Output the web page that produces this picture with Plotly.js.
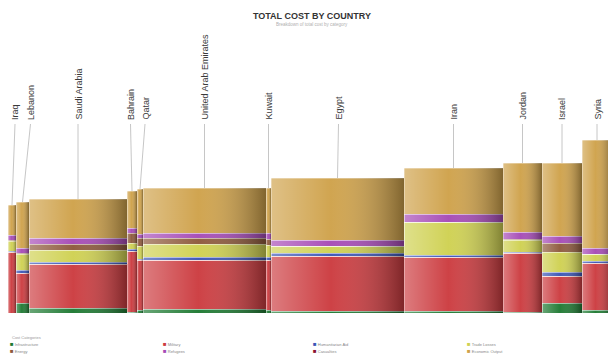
<!DOCTYPE html>
<html>
<head>
<meta charset="utf-8">
<script src="https://cdn.plot.ly/plotly-3.0.1.min.js"></script>
<style>html,body{margin:0;padding:0;background:#fff;}#chart{width:608px;height:357px;}</style>
</head>
<body>
<div id="chart"></div>
<script>
// ---- DATA ----
var countries = ["Iraq","Lebanon","Saudi Arabia","Bahrain","Qatar","United Arab Emirates","Kuwait","Egypt","Iran","Jordan","Israel","Syria"];
// bar widths (relative size of each country)
var countryWidths = [8, 13, 98, 10, 6, 123, 5, 133, 99, 39, 40, 30];
// cost categories in stacking order (bottom -> top)
var categories = ["Infrastructure","Military","Casualties","Humanitarian Aid","Trade Losses","Energy","Refugees","Economic Output"];
var infrastructure = [0, 10, 5, 1, 3, 4, 3, 2, 2, 1, 10, 3];
var military       = [61, 30, 44, 61, 50, 49, 50, 55, 54, 59, 27, 47];
var casualties     = [0, 0, 0, 0, 0, 0, 0, 0, 0, 0, 0, 0];
var humanitarian   = [1, 3, 2, 2, 1, 3, 3, 3, 2, 1, 4, 2];
var tradeLosses    = [10, 16, 12, 6, 13, 13, 12, 7, 33, 12, 20, 7];
var energy         = [1, 1, 6, 10, 8, 6, 6, 0, 0, 1, 9, 0];
var refugees       = [5, 5, 6, 5, 4, 5, 6, 6, 8, 7, 7, 6];
var economicOutput = [30, 46, 39, 37, 45, 45, 45, 62, 46, 69, 73, 108];
var seriesValues = [infrastructure, military, casualties, humanitarian, tradeLosses, energy, refugees, economicOutput];
var seriesColors = ["#1f7a33","#cc3c40","#8a1232","#3b56b6","#cfd152","#8e5a3d","#a64bb6","#cfa24b"];
// legend reading order (4 columns, 2 rows)
var legendOrder = [0, 1, 3, 4, 5, 6, 2, 7];

// ---- LAYOUT HELPERS (label placement, not data) ----
var labelShift = [3, 8, 0, -1.5, 5, 0, 0, 1, 0, 0, 0, 0];
var labelBase = 189; // leader lines end just below the labels

// ---- BUILD ----
var starts = [], centers = [], totals = [];
var acc = 0;
for (var i = 0; i < countries.length; i++) {
  starts.push(acc);
  centers.push(acc + countryWidths[i] / 2);
  acc += countryWidths[i];
  var t = 0;
  for (var s = 0; s < seriesValues.length; s++) t += seriesValues[s][i];
  totals.push(t);
}

var traces = categories.map(function (name, s) {
  return {
    type: "bar", name: name, x: centers, y: seriesValues[s], width: countryWidths,
    marker: { color: seriesColors[s], line: { color: "rgba(255,255,255,0.55)", width: 0.6 } },
    hoverinfo: "name+y", showlegend: false
  };
});

var gradSvg = "<svg xmlns='http://www.w3.org/2000/svg' width='100' height='100' preserveAspectRatio='none'>" +
  "<defs><linearGradient id='g' x1='0' y1='0' x2='1' y2='0'>" +
  "<stop offset='0' stop-color='#ffffff' stop-opacity='0.33'/>" +
  "<stop offset='0.45' stop-color='#ffffff' stop-opacity='0.03'/>" +
  "<stop offset='1' stop-color='#000000' stop-opacity='0.38'/>" +
  "</linearGradient></defs><rect width='100' height='100' fill='url(#g)'/></svg>";
var gradSrc = "data:image/svg+xml;charset=utf-8," + encodeURIComponent(gradSvg);

var images = countries.map(function (c, i) {
  return { source: gradSrc, xref: "x", yref: "y", x: starts[i], y: totals[i],
    sizex: countryWidths[i], sizey: totals[i], xanchor: "left", yanchor: "top",
    sizing: "stretch", layer: "above", opacity: 1 };
});

var shapes = countries.map(function (c, i) {
  return { type: "line", xref: "x", yref: "y", x0: centers[i], x1: centers[i] + labelShift[i],
    y0: totals[i], y1: labelBase, line: { color: "#b8b8b8", width: 0.8 }, layer: "below" };
});

var annotations = countries.map(function (c, i) {
  return { text: c, xref: "x", yref: "y", x: centers[i] + labelShift[i], y: labelBase + 2,
    xanchor: "center", yanchor: "bottom", textangle: -90, showarrow: false,
    font: { family: "Liberation Sans, Arial, sans-serif", size: 9, color: "#3a3a3a" } };
});

annotations.push({ text: "Breakdown of total cost by category", xref: "paper", yref: "paper",
  x: 0.507, y: 0.02, yref: "container", xanchor: "center", yanchor: "middle", showarrow: false,
  font: { family: "Liberation Sans, Arial, sans-serif", size: 4.5, color: "#b0b0b0" } });
annotations[annotations.length - 1].yref = "paper";
annotations[annotations.length - 1].y = 1.018;

// legend built from categories and colours
annotations.push({ text: "Cost Categories", xref: "paper", yref: "paper", x: 0.003, y: -0.085,
  xanchor: "left", yanchor: "middle", showarrow: false,
  font: { family: "Liberation Sans, Arial, sans-serif", size: 4, color: "#999" } });
var colX = [0.0, 0.255, 0.505, 0.762];
var rowY = [-0.11, -0.135];
legendOrder.forEach(function (s, k) {
  annotations.push({
    text: "<span style='color:" + seriesColors[s] + ";font-size:6px'>■</span> " + categories[s],
    xref: "paper", yref: "paper", x: colX[k % 4], y: rowY[Math.floor(k / 4)],
    xanchor: "left", yanchor: "middle", showarrow: false,
    font: { family: "Liberation Sans, Arial, sans-serif", size: 4, color: "#888" } });
});

var layout = {
  width: 608, height: 357,
  margin: { l: 8, r: 0, t: 30, b: 44 },
  paper_bgcolor: "#ffffff", plot_bgcolor: "#ffffff",
  barmode: "stack",
  title: { text: "<b>TOTAL COST BY COUNTRY</b>", xref: "container", yref: "container",
    x: 0.513, y: 0.955, xanchor: "center", yanchor: "middle",
    font: { family: "Liberation Sans, Arial, sans-serif", size: 9, color: "#333" } },
  xaxis: { range: [0, 600], visible: false, fixedrange: true },
  yaxis: { range: [0, 283], visible: false, fixedrange: true },
  showlegend: false,
  images: images, shapes: shapes, annotations: annotations
};

Plotly.newPlot("chart", traces, layout, { displayModeBar: false, staticPlot: true });
</script>
</body>
</html>
